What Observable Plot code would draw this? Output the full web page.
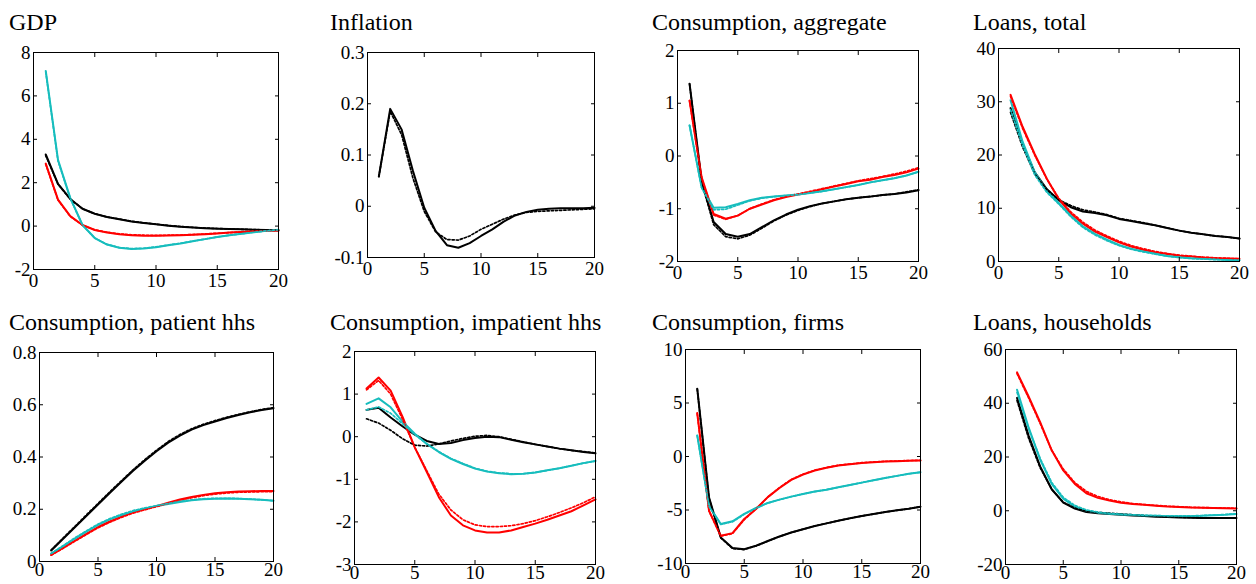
<!DOCTYPE html>
<html><head><meta charset="utf-8">
<script src="https://cdn.jsdelivr.net/npm/d3@7"></script>
<script src="https://cdn.jsdelivr.net/npm/@observablehq/plot@0.6"></script>
<style>
html,body{margin:0;padding:0;background:#fff;}
#chart{position:relative;width:1256px;height:584px;overflow:hidden;font-family:"Liberation Serif","Times New Roman",serif;}
#chart svg{position:absolute;}
#chart svg, #chart svg text{font-family:"Liberation Serif","Times New Roman",serif !important;}
</style></head><body><div id="chart"></div>
<script>
// ---------- data ----------
const periods = [1,2,3,4,5,6,7,8,9,10,11,12,13,14,15,16,17,18,19,20];
const xTicks = [0,5,10,15,20];
const titles = ["GDP","Inflation","Consumption, aggregate","Loans, total",
  "Consumption, patient hhs","Consumption, impatient hhs","Consumption, firms","Loans, households"];

const gdpTicks = [-2,0,2,4,6,8];
const gdpBlack    = [3.3,1.95,1.25,0.8,0.57,0.42,0.32,0.21,0.14,0.08,0.02,-0.03,-0.07,-0.1,-0.12,-0.13,-0.15,-0.17,-0.18,-0.2];
const gdpBlackDot = [3.25,1.93,1.24,0.8,0.57,0.42,0.33,0.22,0.15,0.09,0.03,-0.02,-0.06,-0.09,-0.11,-0.13,-0.15,-0.16,-0.18,-0.19];
const gdpRed      = [2.88,1.22,0.46,0.05,-0.18,-0.3,-0.38,-0.42,-0.44,-0.44,-0.43,-0.42,-0.4,-0.37,-0.34,-0.3,-0.27,-0.25,-0.22,-0.2];
const gdpRedDot   = [2.85,1.2,0.45,0.04,-0.17,-0.28,-0.36,-0.4,-0.42,-0.43,-0.42,-0.41,-0.39,-0.36,-0.33,-0.3,-0.27,-0.24,-0.22,-0.2];
const gdpCyan     = [7.15,3.05,1.3,0.05,-0.55,-0.85,-1.0,-1.05,-1.03,-0.97,-0.88,-0.8,-0.7,-0.6,-0.5,-0.42,-0.35,-0.28,-0.22,-0.17];
const gdpCyanDot  = [7.1,3.0,1.28,0.04,-0.55,-0.84,-0.99,-1.04,-1.02,-0.96,-0.87,-0.79,-0.69,-0.6,-0.5,-0.42,-0.35,-0.28,-0.22,-0.17];

const infTicks = [-0.1,0,0.1,0.2,0.3];
const infBlack    = [0.058,0.19,0.15,0.069,-0.003,-0.048,-0.076,-0.081,-0.072,-0.058,-0.045,-0.03,-0.018,-0.011,-0.007,-0.005,-0.004,-0.004,-0.004,-0.003];
const infBlackDot = [0.058,0.185,0.14,0.055,-0.01,-0.05,-0.065,-0.066,-0.058,-0.045,-0.035,-0.025,-0.017,-0.012,-0.01,-0.009,-0.008,-0.007,-0.006,-0.005];

const caggTicks = [-2,-1,0,1,2];
const caggBlack    = [1.37,-0.46,-1.25,-1.48,-1.53,-1.48,-1.35,-1.22,-1.11,-1.02,-0.95,-0.9,-0.86,-0.82,-0.79,-0.77,-0.74,-0.72,-0.69,-0.65];
const caggBlackDot = [1.37,-0.5,-1.3,-1.53,-1.57,-1.5,-1.37,-1.23,-1.12,-1.03,-0.96,-0.9,-0.86,-0.82,-0.79,-0.77,-0.74,-0.72,-0.68,-0.64];
const caggRed      = [1.05,-0.4,-1.1,-1.19,-1.13,-1.0,-0.92,-0.84,-0.78,-0.73,-0.69,-0.63,-0.58,-0.53,-0.48,-0.45,-0.4,-0.36,-0.31,-0.24];
const caggRedDot   = [1.05,-0.42,-1.12,-1.2,-1.13,-1.0,-0.91,-0.83,-0.77,-0.72,-0.67,-0.62,-0.57,-0.52,-0.47,-0.43,-0.39,-0.34,-0.29,-0.22];
const caggCyan     = [0.58,-0.59,-0.98,-0.97,-0.91,-0.84,-0.79,-0.77,-0.75,-0.73,-0.7,-0.67,-0.63,-0.59,-0.55,-0.5,-0.46,-0.42,-0.37,-0.3];
const caggCyanDot  = [0.58,-0.6,-1.02,-1.01,-0.93,-0.85,-0.8,-0.77,-0.75,-0.73,-0.7,-0.67,-0.63,-0.59,-0.55,-0.5,-0.46,-0.42,-0.37,-0.3];

const ltotTicks = [0,10,20,30,40];
const ltotBlack    = [28.8,22.0,16.8,13.6,11.5,10.2,9.4,9.1,8.7,8.0,7.6,7.2,6.8,6.3,5.8,5.4,5.1,4.8,4.6,4.3];
const ltotBlackDot = [28.0,21.5,16.5,13.5,11.6,10.5,9.7,9.3,8.8,8.1,7.7,7.3,6.8,6.3,5.8,5.4,5.1,4.8,4.6,4.3];
const ltotRed      = [31.3,25.3,20.2,15.6,11.7,9.0,7.1,5.6,4.6,3.6,2.8,2.2,1.75,1.4,1.1,0.95,0.75,0.63,0.57,0.5];
const ltotRedDot   = [31.0,25.0,20.0,15.5,11.9,9.3,7.4,5.9,4.8,3.8,3.0,2.4,1.9,1.5,1.2,1.0,0.8,0.7,0.6,0.5];
const ltotCyan     = [30.3,22.5,16.8,13.3,11.0,8.6,6.6,5.2,4.1,3.1,2.4,1.9,1.45,1.05,0.8,0.6,0.5,0.4,0.3,0.25];
const ltotCyanDot  = [28.5,21.8,16.3,13.0,10.8,8.4,6.4,5.0,3.9,3.0,2.3,1.8,1.4,1.0,0.75,0.55,0.45,0.35,0.3,0.25];

const cpatTicks = [0,0.2,0.4,0.6,0.8];
const cpatBlack    = [0.042,0.086,0.13,0.174,0.218,0.262,0.305,0.347,0.386,0.422,0.455,0.482,0.505,0.522,0.536,0.549,0.561,0.571,0.58,0.587];
const cpatBlackDot = [0.044,0.089,0.133,0.178,0.222,0.266,0.309,0.351,0.39,0.426,0.459,0.486,0.508,0.525,0.539,0.552,0.563,0.573,0.582,0.589];
const cpatRed      = [0.025,0.052,0.079,0.106,0.132,0.153,0.172,0.188,0.2,0.212,0.225,0.237,0.247,0.255,0.261,0.265,0.268,0.269,0.27,0.27];
const cpatRedDot   = [0.024,0.05,0.077,0.103,0.129,0.15,0.169,0.185,0.198,0.21,0.222,0.234,0.244,0.252,0.258,0.262,0.265,0.266,0.267,0.267];
const cpatCyan     = [0.03,0.058,0.087,0.114,0.14,0.161,0.178,0.192,0.203,0.212,0.22,0.228,0.234,0.238,0.24,0.241,0.24,0.238,0.236,0.233];
const cpatCyanDot  = [0.031,0.06,0.09,0.117,0.143,0.164,0.181,0.195,0.205,0.214,0.222,0.23,0.236,0.24,0.242,0.242,0.241,0.239,0.236,0.233];

const cimpTicks = [-3,-2,-1,0,1,2];
const cimpBlack    = [0.63,0.68,0.45,0.24,0.05,-0.1,-0.17,-0.15,-0.08,-0.03,0.0,-0.01,-0.07,-0.13,-0.18,-0.23,-0.28,-0.32,-0.36,-0.39];
const cimpBlackDot = [0.42,0.32,0.15,-0.05,-0.2,-0.22,-0.17,-0.1,-0.04,0.01,0.03,0.0,-0.06,-0.12,-0.18,-0.23,-0.28,-0.32,-0.35,-0.38];
const cimpRed      = [1.13,1.39,1.08,0.46,-0.25,-0.83,-1.42,-1.85,-2.08,-2.2,-2.25,-2.25,-2.2,-2.12,-2.04,-1.95,-1.85,-1.75,-1.61,-1.47];
const cimpRedDot   = [1.1,1.32,1.0,0.4,-0.25,-0.8,-1.35,-1.72,-1.95,-2.07,-2.11,-2.11,-2.09,-2.04,-1.97,-1.88,-1.78,-1.67,-1.55,-1.41];
const cimpCyan     = [0.77,0.9,0.69,0.35,0.07,-0.17,-0.36,-0.52,-0.64,-0.75,-0.82,-0.86,-0.88,-0.87,-0.84,-0.79,-0.74,-0.68,-0.62,-0.57];
const cimpCyanDot  = [0.63,0.7,0.55,0.3,0.05,-0.17,-0.35,-0.51,-0.63,-0.74,-0.81,-0.85,-0.87,-0.87,-0.84,-0.79,-0.74,-0.68,-0.62,-0.57];

const cfirTicks = [-10,-5,0,5,10];
const cfirBlack    = [6.34,-3.8,-7.56,-8.56,-8.66,-8.34,-7.9,-7.47,-7.1,-6.8,-6.5,-6.25,-6.0,-5.78,-5.56,-5.38,-5.19,-5.03,-4.88,-4.69];
const cfirBlackDot = [6.3,-3.9,-7.6,-8.6,-8.7,-8.36,-7.92,-7.48,-7.1,-6.8,-6.5,-6.25,-6.0,-5.78,-5.56,-5.38,-5.19,-5.03,-4.88,-4.69];
const cfirRed      = [4.06,-5.06,-7.4,-7.16,-5.84,-4.9,-3.8,-2.94,-2.19,-1.69,-1.31,-1.06,-0.84,-0.72,-0.6,-0.53,-0.47,-0.44,-0.4,-0.37];
const cfirRedDot   = [4.0,-5.1,-7.45,-7.2,-5.9,-4.9,-3.8,-2.9,-2.15,-1.65,-1.28,-1.03,-0.82,-0.7,-0.58,-0.51,-0.45,-0.42,-0.38,-0.35];
const cfirCyan     = [1.97,-4.6,-6.31,-6.06,-5.37,-4.81,-4.34,-4.03,-3.75,-3.5,-3.28,-3.1,-2.88,-2.66,-2.44,-2.22,-2.0,-1.81,-1.62,-1.47];
const cfirCyanDot  = [1.95,-4.65,-6.35,-6.1,-5.4,-4.83,-4.35,-4.03,-3.75,-3.5,-3.28,-3.1,-2.88,-2.66,-2.44,-2.22,-2.0,-1.81,-1.62,-1.47];

const lhhTicks = [-20,0,20,40,60];
const lhhBlack    = [42,28,16.5,8,3,0.8,-0.5,-0.9,-1.2,-1.5,-1.8,-2.0,-2.2,-2.3,-2.5,-2.6,-2.7,-2.7,-2.7,-2.7];
const lhhBlackDot = [41,27,16,8,3.2,1.0,-0.2,-0.6,-0.9,-1.2,-1.5,-1.8,-2.0,-2.2,-2.4,-2.5,-2.6,-2.6,-2.6,-2.6];
const lhhRed      = [51.5,42.5,33,22.5,15,10,6.5,4.8,3.8,3.0,2.5,2.2,1.9,1.6,1.4,1.2,1.1,1.0,0.9,0.8];
const lhhRedDot   = [51,42,32.5,22.5,15.5,10.5,7.2,5.3,4.1,3.3,2.7,2.3,2.0,1.7,1.5,1.3,1.2,1.1,1.0,0.9];
const lhhCyan     = [45,31,19,10,4.5,1.5,0.0,-0.7,-1.1,-1.4,-1.6,-1.8,-1.9,-2.0,-2.0,-2.0,-1.9,-1.7,-1.5,-1.2];
const lhhCyanDot  = [44,30.5,19.5,10.5,5,2,0.3,-0.5,-1.0,-1.3,-1.5,-1.7,-1.8,-1.9,-1.9,-1.9,-1.8,-1.6,-1.4,-1.1];

// ---------- styles ----------
const BLACK = "#000000", RED = "#ff0000", CYAN = "#17bdbd";
const trio = (b, bd, r, rd, c, cd) => [
  {values: b, color: BLACK, dot: false}, {values: r, color: RED, dot: false}, {values: c, color: CYAN, dot: false},
  {values: bd, color: BLACK, dot: true}, {values: rd, color: RED, dot: true}, {values: cd, color: CYAN, dot: true}
];
const panels = [
  {ticks: gdpTicks,  series: trio(gdpBlack,gdpBlackDot,gdpRed,gdpRedDot,gdpCyan,gdpCyanDot)},
  {ticks: infTicks,  series: [{values: infBlack, color: BLACK, dot: false},{values: infBlackDot, color: BLACK, dot: true}]},
  {ticks: caggTicks, series: trio(caggBlack,caggBlackDot,caggRed,caggRedDot,caggCyan,caggCyanDot)},
  {ticks: ltotTicks, series: trio(ltotBlack,ltotBlackDot,ltotRed,ltotRedDot,ltotCyan,ltotCyanDot)},
  {ticks: cpatTicks, series: trio(cpatBlack,cpatBlackDot,cpatRed,cpatRedDot,cpatCyan,cpatCyanDot)},
  {ticks: cimpTicks, series: trio(cimpBlack,cimpBlackDot,cimpRed,cimpRedDot,cimpCyan,cimpCyanDot)},
  {ticks: cfirTicks, series: trio(cfirBlack,cfirBlackDot,cfirRed,cfirRedDot,cfirCyan,cfirCyanDot)},
  {ticks: lhhTicks,  series: trio(lhhBlack,lhhBlackDot,lhhRed,lhhRedDot,lhhCyan,lhhCyanDot)}
];
// frame boxes in page pixels: left, top, right, bottom
const boxes = [[33,52,278,269],[367,52,594,257],[677,50,918,261],[998,48,1239,261],
               [39,352,273,561],[354,351,595,564],[685,349,920,563],[1005,349,1236,564]];
const titlePos = [[9,30],[330,30],[652,30],[973,30],[9,330],[330,330],[652,330],[973,330]];

const ML = 48, MR = 18, MT = 14, MB = 34;
const chart = document.getElementById("chart");
const fmt = d => String(d);

panels.forEach((p, i) => {
  const [l, t, r, b] = boxes[i];
  const w = r - l, h = b - t;
  const ticks = p.ticks;
  const xPad = i < 4 ? 4 : 1;
  const marks = [];
  for (const s of p.series) {
    marks.push(Plot.line(s.values, {
      x: (d, j) => periods[j], y: d => d,
      stroke: s.color, strokeWidth: s.dot ? 1.7 : 2,
      strokeDasharray: s.dot ? "2.2,2" : null
    }));
  }
  marks.push(
    Plot.frame({stroke: "black", strokeWidth: 1}),
    Plot.axisX(xTicks, {anchor: "bottom", tickSize: 0, tickPadding: xPad, tickFormat: fmt, label: null, fill: "black"}),
    Plot.axisY(ticks, {anchor: "left", tickSize: 0, tickPadding: 3, tickFormat: fmt, label: null, fill: "black"}),
    Plot.axisX(xTicks, {anchor: "bottom", tickSize: -4, fill: "none", label: null, stroke: "black"}),
    Plot.axisX(xTicks, {anchor: "top", tickSize: -4, fill: "none", label: null, stroke: "black"}),
    Plot.axisY(ticks, {anchor: "left", tickSize: -4, fill: "none", label: null, stroke: "black"}),
    Plot.axisY(ticks, {anchor: "right", tickSize: -4, fill: "none", label: null, stroke: "black"})
  );
  const svg = Plot.plot({
    width: w + ML + MR, height: h + MT + MB,
    marginLeft: ML, marginRight: MR, marginTop: MT, marginBottom: MB,
    x: {domain: [0, 20]},
    y: {domain: [ticks[0], ticks[ticks.length - 1]]},
    style: {fontFamily: '"Liberation Serif","Times New Roman",serif', fontSize: "19px", background: "transparent", overflow: "visible", color: "black"},
    marks
  });
  svg.style.left = (l - ML) + "px";
  svg.style.top = (t - MT) + "px";
  chart.appendChild(svg);
});

// titles overlay
const overlay = d3.select(chart).append("svg")
  .attr("width", 1256).attr("height", 584)
  .style("left", "0px").style("top", "0px").style("pointer-events", "none");
overlay.selectAll("text").data(titles).join("text")
  .attr("x", (d, i) => titlePos[i][0]).attr("y", (d, i) => titlePos[i][1])
  .attr("font-family", '"Liberation Serif","Times New Roman",serif')
  .attr("font-size", 24).attr("fill", "black")
  .text(d => d);
</script></body></html>
